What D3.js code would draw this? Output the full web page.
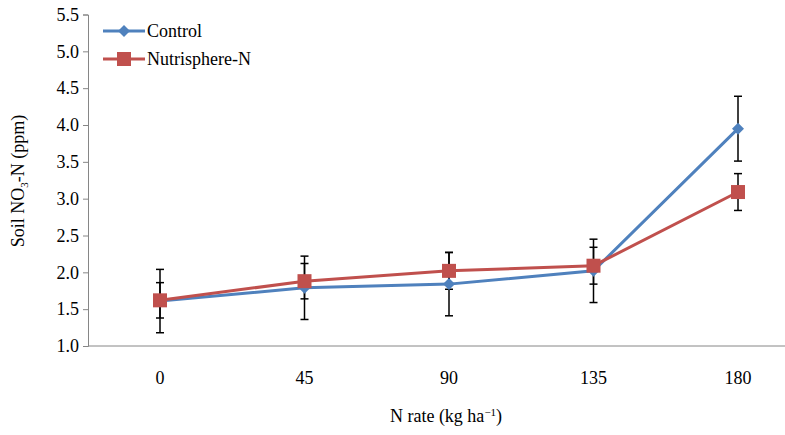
<!DOCTYPE html>
<html>
<head>
<meta charset="utf-8">
<script src="https://cdn.jsdelivr.net/npm/d3@7"></script>
<style>
  body { margin: 0; background: #fff; }
  svg text { font-family: "Liberation Serif", "DejaVu Serif", serif !important; fill: #000; }
</style>
</head>
<body>
<svg id="chart" width="785" height="435"></svg>
<script>
const nRates = ["0", "45", "90", "135", "180"];
const controlMeans = [1.61, 1.79, 1.84, 2.02, 3.95];
const controlErr = [0.43, 0.43, 0.43, 0.43, 0.44];
const nutriMeans = [1.62, 1.88, 2.02, 2.09, 3.09];
const nutriErr = [0.24, 0.24, 0.25, 0.25, 0.25];
const yTicks = [1.0, 1.5, 2.0, 2.5, 3.0, 3.5, 4.0, 4.5, 5.0, 5.5];

const blue = "#4F81BD";
const red = "#C0504D";
const axisColor = "#868686";
const fontSize = "18px";

const svg = d3.select("#chart");
const plotLeft = 88, plotRight = 785, plotTop = 14.5, plotBottom = 346;

const x = d3.scalePoint().domain(nRates).range([160, 738]);
const y = d3.scaleLinear().domain([1.0, 5.5]).range([plotBottom, plotTop]);

// y axis
const yAxis = svg.append("g")
  .attr("transform", `translate(${plotLeft},0)`)
  .call(d3.axisLeft(y).tickValues(yTicks).tickFormat(d3.format(".1f")).tickSize(5).tickPadding(4));
yAxis.select(".domain").attr("stroke", axisColor);
yAxis.selectAll(".tick line").attr("stroke", axisColor);
yAxis.selectAll(".tick text").style("font-size", fontSize);

// x axis
svg.append("line")
  .attr("x1", plotLeft).attr("x2", plotRight)
  .attr("y1", plotBottom).attr("y2", plotBottom)
  .attr("stroke", axisColor);

svg.append("g").selectAll("text")
  .data(nRates)
  .enter()
  .append("text")
  .attr("x", d => x(d))
  .attr("y", 384)
  .attr("text-anchor", "middle")
  .style("font-size", fontSize)
  .text(d => d);

// axis titles
const yTitle = svg.append("text")
  .attr("transform", "translate(24,181) rotate(-90)")
  .attr("text-anchor", "middle")
  .style("font-size", fontSize);
yTitle.append("tspan").text("Soil NO");
yTitle.append("tspan").attr("dy", 4).style("font-size", "11px").text("3");
yTitle.append("tspan").attr("dy", -4).text("-N (ppm)");

const xTitle = svg.append("text")
  .attr("x", 446)
  .attr("y", 422)
  .attr("text-anchor", "middle")
  .style("font-size", fontSize);
xTitle.append("tspan").text("N rate (kg ha");
xTitle.append("tspan").attr("dy", -6).style("font-size", "11px").text("\u22121");
xTitle.append("tspan").attr("dy", 6).text(")");

const series = [
  { name: "Control", means: controlMeans, err: controlErr, color: blue, marker: "diamond" },
  { name: "Nutrisphere-N", means: nutriMeans, err: nutriErr, color: red, marker: "square" }
];

const line = d3.line()
  .x((d, i) => x(nRates[i]))
  .y(d => y(d));

// error bars
series.forEach(s => {
  const g = svg.append("g");
  s.means.forEach((m, i) => {
    const cx = x(nRates[i]);
    const y1 = y(m + s.err[i]), y2 = y(m - s.err[i]);
    g.append("line").attr("x1", cx).attr("x2", cx).attr("y1", y1).attr("y2", y2)
      .attr("stroke", "#000").attr("stroke-width", 1.5);
    [y1, y2].forEach(yy => {
      g.append("line").attr("x1", cx - 4).attr("x2", cx + 4).attr("y1", yy).attr("y2", yy)
        .attr("stroke", "#000").attr("stroke-width", 1.5);
    });
  });
});

function drawMarker(g, type, cx, cy, color) {
  if (type === "square") {
    g.append("rect").attr("x", cx - 7).attr("y", cy - 7).attr("width", 14).attr("height", 14)
      .attr("fill", color);
  } else {
    g.append("path")
      .attr("d", `M${cx},${cy - 6}L${cx + 6},${cy}L${cx},${cy + 6}L${cx - 6},${cy}Z`)
      .attr("fill", color);
  }
}

// lines + markers
series.forEach(s => {
  svg.append("path")
    .datum(s.means)
    .attr("fill", "none")
    .attr("stroke", s.color)
    .attr("stroke-width", 3)
    .attr("d", line);
  const g = svg.append("g");
  s.means.forEach((m, i) => drawMarker(g, s.marker, x(nRates[i]), y(m), s.color));
});

// legend
series.forEach((s, i) => {
  const ly = 31 + i * 28;
  svg.append("line").attr("x1", 103).attr("x2", 145).attr("y1", ly).attr("y2", ly)
    .attr("stroke", s.color).attr("stroke-width", 3);
  drawMarker(svg, s.marker, 124, ly, s.color);
  svg.append("text").attr("x", 147).attr("y", ly + 6).style("font-size", fontSize).text(s.name);
});
</script>
</body>
</html>
